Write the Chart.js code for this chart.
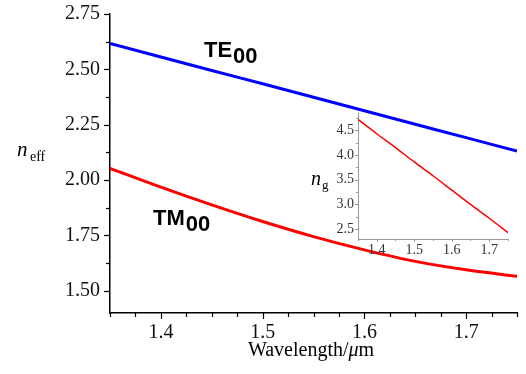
<!DOCTYPE html>
<html>
<head>
<meta charset="utf-8">
<script src="https://cdn.jsdelivr.net/npm/chart.js@4.4.1/dist/chart.umd.min.js"></script>
<style>
  body { margin: 0; background: #fff; }
  #wrap { position: relative; width: 526px; height: 374px; }
  #wrap canvas { position: absolute; left: 0; top: 0; }
</style>
</head>
<body>
<div id="wrap">
  <canvas id="main" width="526" height="374"></canvas>
  <canvas id="inset" width="526" height="374"></canvas>
</div>
<script>
// datos
const wavelength = [1.35, 1.40, 1.45, 1.50, 1.55, 1.60, 1.65, 1.70, 1.75];
const neffTE = [2.617, 2.556, 2.495, 2.435, 2.374, 2.313, 2.252, 2.192, 2.131];
const neffTM = [2.053, 1.968, 1.888, 1.813, 1.745, 1.685, 1.633, 1.595, 1.566];
const ngTM = [4.72, 4.43, 4.15, 3.86, 3.58, 3.29, 3.00, 2.72, 2.43];

// ticks
const xTicksMain = [1.35, 1.375, 1.4, 1.425, 1.45, 1.475, 1.5, 1.525, 1.55, 1.575, 1.6, 1.625, 1.65, 1.675, 1.7, 1.725, 1.75];
const xLabelsMain = [1.4, 1.5, 1.6, 1.7];
const yTicksMain = [1.5, 1.625, 1.75, 1.875, 2.0, 2.125, 2.25, 2.375, 2.5, 2.625, 2.75];
const yLabelsMain = [1.5, 1.75, 2.0, 2.25, 2.5, 2.75];

const xTicksInset = [1.35, 1.4, 1.45, 1.5, 1.55, 1.6, 1.65, 1.7, 1.75];
const xLabelsInset = [1.4, 1.5, 1.6, 1.7];
const yTicksInset = [2.5, 2.75, 3.0, 3.25, 3.5, 3.75, 4.0, 4.25, 4.5, 4.75];
const yLabelsInset = [2.5, 3.0, 3.5, 4.0, 4.5];

const serif = "'Liberation Serif', 'Times New Roman', serif";
const sans = "'Liberation Sans', Arial, sans-serif";
Chart.defaults.font.family = serif;

function isIn(list, v) {
  return list.some(l => Math.abs(l - v) < 1e-6);
}

function pts(ys) {
  return wavelength.map((x, i) => ({ x: x, y: ys[i] }));
}

// sin relleno extra de las escalas, el area la fija layout.padding
function noPad(s) {
  s.paddingTop = 0; s.paddingBottom = 0;
  s.paddingLeft = 0; s.paddingRight = 0;
}

// dibuja marcas mayores y menores con las escalas de Chart.js
function tickPlugin(xLab, yLab, major, minor, color, width) {
  return {
    id: 'ticks',
    afterDraw(chart) {
      const c = chart.ctx;
      const xs = chart.scales.x, ys = chart.scales.y;
      const area = chart.chartArea;
      c.save();
      c.strokeStyle = color;
      c.lineWidth = width;
      xs.ticks.forEach(t => {
        const px = Math.round(xs.getPixelForValue(t.value)) + 0.5;
        const len = isIn(xLab, t.value) ? major : minor;
        c.beginPath();
        c.moveTo(px, area.bottom);
        c.lineTo(px, area.bottom + len);
        c.stroke();
      });
      ys.ticks.forEach(t => {
        const py = Math.round(ys.getPixelForValue(t.value)) + 0.5;
        const len = isIn(yLab, t.value) ? major : minor;
        c.beginPath();
        c.moveTo(area.left, py);
        c.lineTo(area.left - len, py);
        c.stroke();
      });
      c.restore();
    }
  };
}

const textPlugin = {
  id: 'texts',
  afterDraw(chart) {
    const c = chart.ctx;
    c.save();
    c.fillStyle = '#000';
    c.textBaseline = 'alphabetic';
    c.textAlign = 'left';

    // eje x
    const a = 'Wavelength/';
    c.font = 'italic 20px ' + serif;
    const wMu = c.measureText('\u03bc').width;
    c.font = '20px ' + serif;
    const wA = c.measureText(a).width;
    const wM = c.measureText('m').width;
    let x0 = 311 - (wA + wMu + wM) / 2;
    c.fillText(a, x0, 356);
    c.font = 'italic 20px ' + serif;
    c.fillText('\u03bc', x0 + wA, 356);
    c.font = '20px ' + serif;
    c.fillText('m', x0 + wA + wMu, 356);

    // eje y
    c.font = 'italic 21px ' + serif;
    c.fillText('n', 17, 156);
    c.font = '14px ' + serif;
    c.fillText('eff', 30, 161);

    // etiquetas de modos
    c.font = 'bold 22px ' + sans;
    c.fillText('TE', 204, 57);
    const wTE = c.measureText('TE').width;
    c.fillText('00', 204 + wTE + 1, 63);
    c.fillText('TM', 153, 225);
    const wTM = c.measureText('TM').width;
    c.fillText('00', 153 + wTM + 1, 231);
    c.restore();
  }
};

const insetText = {
  id: 'insetText',
  afterDraw(chart) {
    const c = chart.ctx;
    c.save();
    c.fillStyle = '#000';
    c.font = 'italic 20px ' + serif;
    c.fillText('n', 311, 185);
    c.font = '13px ' + serif;
    c.fillText('g', 322, 189);
    c.restore();
  }
};

new Chart(document.getElementById('main'), {
  type: 'line',
  data: {
    datasets: [
      { data: pts(neffTE), borderColor: '#0000ff', borderWidth: 3, pointRadius: 0, cubicInterpolationMode: 'monotone' },
      { data: pts(neffTM), borderColor: '#ff0000', borderWidth: 3, pointRadius: 0, cubicInterpolationMode: 'monotone' }
    ]
  },
  options: {
    responsive: false,
    animation: false,
    devicePixelRatio: 1,
    layout: { padding: { top: 14, right: 9, left: 0, bottom: 0 } },
    plugins: { legend: { display: false }, tooltip: { enabled: false } },
    scales: {
      x: {
        type: 'linear',
        min: 1.35,
        max: 1.75,
        afterBuildTicks: (s) => { s.ticks = xTicksMain.map(v => ({ value: v })); },
        afterFit: (s) => { s.height = 61; noPad(s); },
        grid: { display: false, drawTicks: false },
        border: { display: true, color: '#000', width: 1.5 },
        ticks: {
          autoSkip: false, maxRotation: 0, minRotation: 0, padding: 8,
          color: '#111', font: { family: serif, size: 20 },
          callback: (v) => isIn(xLabelsMain, v) ? v.toFixed(1) : ''
        }
      },
      y: {
        type: 'linear',
        min: 1.40,
        max: 2.75,
        afterBuildTicks: (s) => { s.ticks = yTicksMain.map(v => ({ value: v })); },
        afterFit: (s) => { s.width = 110; noPad(s); },
        grid: { display: false, drawTicks: false },
        border: { display: true, color: '#000', width: 1.5 },
        ticks: {
          autoSkip: false, padding: 10,
          color: '#111', font: { family: serif, size: 20 },
          callback: (v) => isIn(yLabelsMain, v) ? v.toFixed(2) : ''
        }
      }
    }
  },
  plugins: [tickPlugin(xLabelsMain, yLabelsMain, 6, 4, '#000', 1.2), textPlugin]
});

new Chart(document.getElementById('inset'), {
  type: 'line',
  data: {
    datasets: [
      { data: pts(ngTM), borderColor: '#ff0000', borderWidth: 1.5, pointRadius: 0, cubicInterpolationMode: 'monotone' }
    ]
  },
  options: {
    responsive: false,
    animation: false,
    devicePixelRatio: 1,
    layout: { padding: { top: 113, right: 18, left: 298, bottom: 105 } },
    plugins: { legend: { display: false }, tooltip: { enabled: false } },
    scales: {
      x: {
        type: 'linear',
        min: 1.35,
        max: 1.75,
        afterBuildTicks: (s) => { s.ticks = xTicksInset.map(v => ({ value: v })); },
        afterFit: (s) => { s.height = 30; noPad(s); },
        grid: { display: false, drawTicks: false },
        border: { display: true, color: '#999', width: 1 },
        ticks: {
          autoSkip: false, maxRotation: 0, minRotation: 0, padding: 3,
          color: '#333', font: { family: serif, size: 14 },
          callback: (v) => isIn(xLabelsInset, v) ? v.toFixed(1) : ''
        }
      },
      y: {
        type: 'linear',
        min: 2.3,
        max: 4.85,
        afterBuildTicks: (s) => { s.ticks = yTicksInset.map(v => ({ value: v })); },
        afterFit: (s) => { s.width = 60; noPad(s); },
        grid: { display: false, drawTicks: false },
        border: { display: true, color: '#999', width: 1 },
        ticks: {
          autoSkip: false, padding: 4,
          color: '#333', font: { family: serif, size: 14 },
          callback: (v) => isIn(yLabelsInset, v) ? v.toFixed(1) : ''
        }
      }
    }
  },
  plugins: [tickPlugin(xLabelsInset, yLabelsInset, 3, 2, '#999', 1), insetText]
});
</script>
</body>
</html>
